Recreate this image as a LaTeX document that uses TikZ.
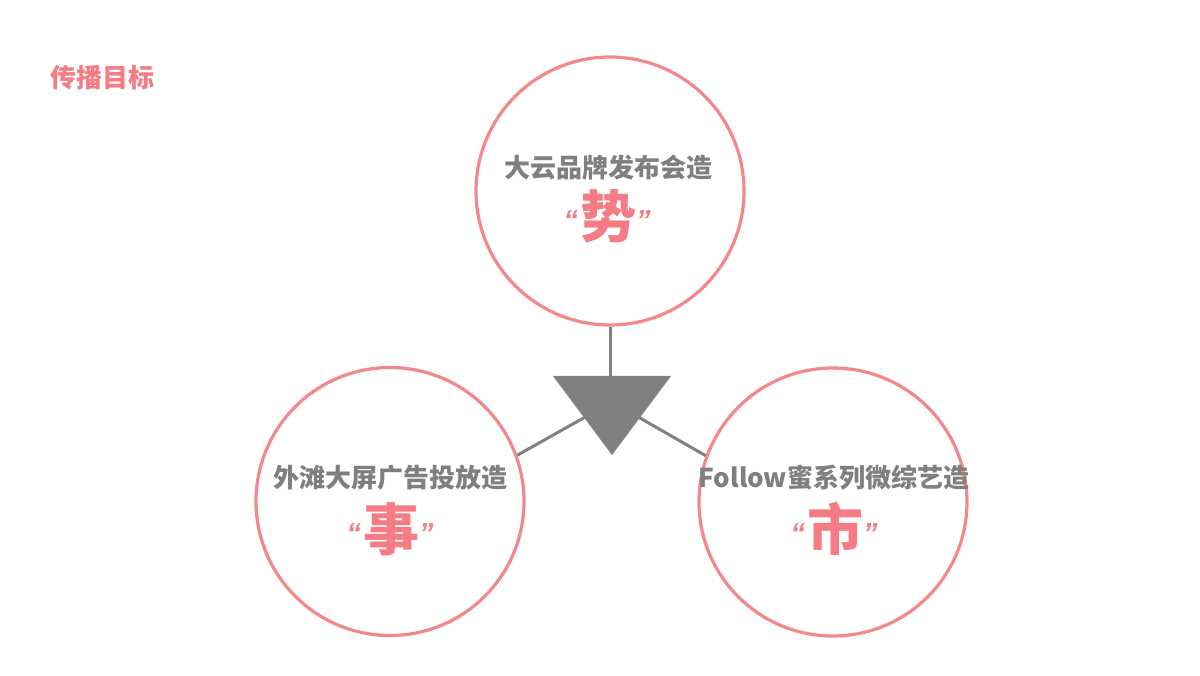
\documentclass[tikz,border=0pt]{standalone}
\usepackage{fontspec}
\newfontfamily\cjk{Noto Sans CJK SC}
\newfontfamily\qf{Liberation Sans}
\definecolor{pinktxt}{HTML}{F47C82}
\definecolor{pinkline}{HTML}{F3878C}
\definecolor{graytxt}{HTML}{7F7F7F}
\definecolor{grayline}{HTML}{808080}
\newcommand{\bigword}[1]{{\qf\bfseries\itshape\fontsize{29}{29}\selectfont\raisebox{7pt}{“}}\kern2pt{\cjk\bfseries\fontsize{56}{56}\selectfont #1}\kern0pt{\qf\bfseries\itshape\fontsize{29}{29}\selectfont\raisebox{7pt}{”}}}
\begin{document}
\begin{tikzpicture}[x=1pt,y=-1pt,
  circ/.style={circle,draw=pinkline,line width=3.2pt,minimum size=268pt,inner sep=0pt},
  conn/.style={draw=grayline,line width=3pt},
  subtxt/.style={font=\cjk\bfseries\fontsize{26}{26}\selectfont,text=graytxt,inner sep=0pt},
  bigtxt/.style={text=pinktxt,inner sep=0pt},
  titletxt/.style={font=\cjk\bfseries\fontsize{26}{26}\selectfont,text=pinktxt,inner sep=0pt}]
\useasboundingbox[fill=white] (0,0) rectangle (1200,676);
\node[titletxt] (title) at (102,78) {传播目标};
\node[circ] (T) at (610,191) {};
\node[circ] (L) at (390,501.5) {};
\node[circ] (R) at (833,502) {};
\coordinate (ta) at (553,376);
\coordinate (tb) at (671,376);
\coordinate (tc) at (612,455);
\coordinate (tm) at (612,402);
\draw[conn] (T.south) -- (T.south |- ta);
\draw[conn] (L.20) -- (tm);
\draw[conn] (R.160) -- (tm);
\fill[grayline] (ta) -- (tb) -- (tc) -- cycle;
\node[subtxt] (Tt) at (608,168) {大云品牌发布会造};
\node[bigtxt] (Tb) at (607,216) {\bigword{势}};
\node[subtxt] (Lt) at (390,478) {外滩大屏广告投放造};
\node[bigtxt] (Lb) at (390,529) {\bigword{事}};
\node[subtxt] (Rt) at (834,478) {Follow蜜系列微综艺造};
\node[bigtxt] (Rb) at (834,529) {\bigword{市}};
\end{tikzpicture}
\end{document}
